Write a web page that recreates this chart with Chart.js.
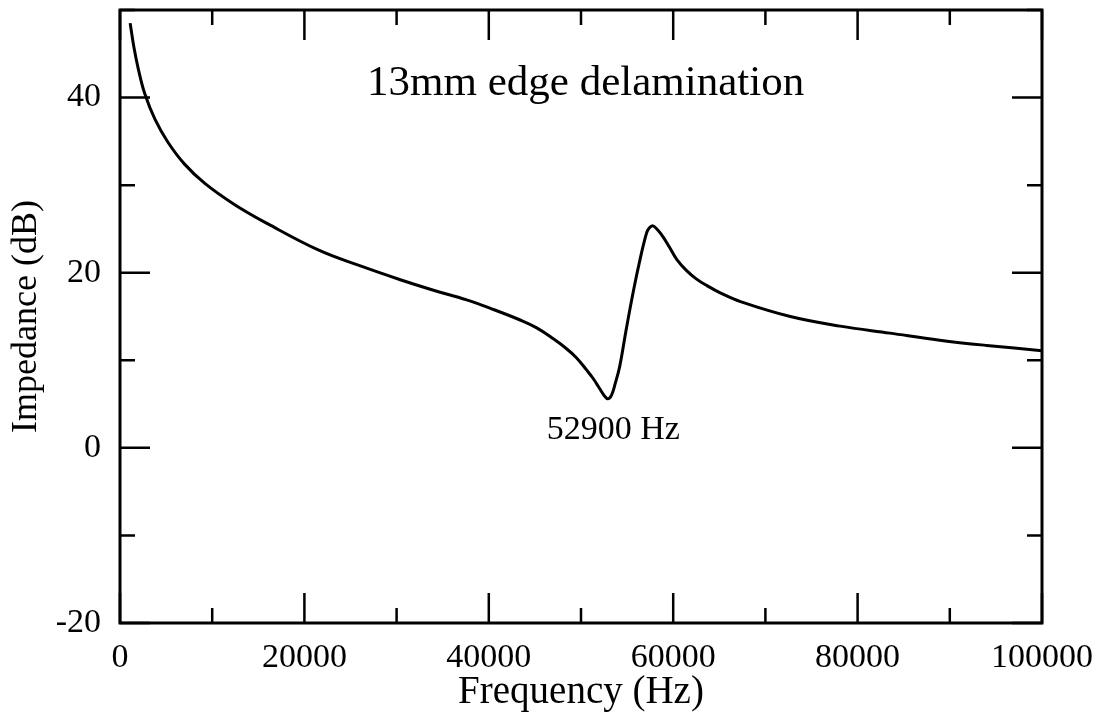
<!DOCTYPE html>
<html>
<head>
<meta charset="utf-8">
<script src="https://cdn.jsdelivr.net/npm/chart.js@4/dist/chart.umd.min.js"></script>
<style>
  body { margin: 0; background: #fff; }
</style>
</head>
<body>
<canvas id="impedance-chart" width="1105" height="718"></canvas>
<script>
// values
var freqHz = [1100, 1500, 2000, 2700, 3800, 5200, 7000, 9200, 12400, 16000, 21500, 26000,
	30400, 34000, 37600, 40500, 43400, 45200, 47000, 48400, 49500, 50600, 51300, 52000,
	52500, 52900, 53300, 53700, 54200, 54900, 55700, 56400, 57100, 57400, 57800, 58300,
	58900, 59600, 60400, 61400, 62500, 63700, 65100, 67300, 72700, 78100, 83500, 88900,
	94000, 100000];
var impedanceDb = [48.5, 45.8, 43.2, 40.4, 37.5, 34.9, 32.4, 30.2, 27.8, 25.6, 22.6, 20.8,
	19.2, 18.0, 16.9, 15.8, 14.6, 13.7, 12.45, 11.35, 10.3, 8.9, 7.95, 6.8,
	6.0, 5.6, 6.0, 7.3, 9.3, 13.5, 18.0, 21.5, 24.5, 25.1, 25.35, 24.9,
	24.1, 22.9, 21.5, 20.3, 19.3, 18.5, 17.7, 16.7, 15.0, 13.9, 13.1, 12.3,
	11.7, 11.1];
var xTickLabels = [0, 20000, 40000, 60000, 80000, 100000];
var yTickLabels = [-20, 0, 20, 40];

var titleText = "13mm edge delamination";
var titleAt = [50500, 41.6];
var noteText = "52900 Hz";
var noteAt = [53500, 2.0];

var serif = "'Liberation Serif', 'Times New Roman', serif";

var points = [];
for (var i = 0; i < freqHz.length; i++) {
	points.push({ x : freqHz[i], y : impedanceDb[i] });
}

// inward ticks on all four sides, the frame, and the two texts
var frameTicks = {
	id : "frameTicks",
	afterDatasetsDraw : function (chart) {
		var ctx = chart.ctx;
		var a = chart.chartArea;
		var xs = chart.scales.x;
		var ys = chart.scales.y;
		ctx.save();
		ctx.strokeStyle = "#000";
		ctx.lineWidth = 2.5;
		ctx.beginPath();
		xs.ticks.forEach(function (t) {
			var px = xs.getPixelForValue(t.value);
			var len = xTickLabels.indexOf(t.value) >= 0 ? 30 : 15;
			ctx.moveTo(px, a.bottom); ctx.lineTo(px, a.bottom - len);
			ctx.moveTo(px, a.top); ctx.lineTo(px, a.top + len);
		});
		ys.ticks.forEach(function (t) {
			var py = ys.getPixelForValue(t.value);
			var len = yTickLabels.indexOf(t.value) >= 0 ? 30 : 15;
			ctx.moveTo(a.left, py); ctx.lineTo(a.left + len, py);
			ctx.moveTo(a.right, py); ctx.lineTo(a.right - len, py);
		});
		ctx.stroke();
		ctx.lineWidth = 3;
		ctx.strokeRect(a.left, a.top, a.right - a.left, a.bottom - a.top);

		ctx.fillStyle = "#000";
		ctx.textAlign = "center";
		ctx.textBaseline = "middle";
		ctx.font = "43px " + serif;
		ctx.fillText(titleText, xs.getPixelForValue(titleAt[0]), ys.getPixelForValue(titleAt[1]));
		ctx.font = "34px " + serif;
		ctx.fillText(noteText, xs.getPixelForValue(noteAt[0]), ys.getPixelForValue(noteAt[1]));
		ctx.restore();
	}
};

var ctx1 = document.getElementById("impedance-chart");

var chart1 = new Chart(ctx1, {
	type : "scatter",
	data : {
		datasets : [
			{
				label : "Impedance",
				data : points,
				showLine : true,
				borderColor : "#000",
				borderWidth : 3,
				pointRadius : 0,
				tension : 0.4
			}
		]
	},
	options : {
		responsive : false,
		animation : false,
		layout : { padding : { top : 10, right : 63, left : 0, bottom : 0 } },
		plugins : {
			legend : { display : false },
			tooltip : { enabled : false }
		},
		scales : {
			x : {
				type : "linear",
				min : 0,
				max : 100000,
				grid : { display : false, drawTicks : false },
				border : { display : false },
				ticks : {
					stepSize : 10000,
					autoSkip : false,
					maxRotation : 0,
					padding : 15,
					color : "#000",
					font : { family : serif, size : 34 },
					callback : function (v) { return xTickLabels.indexOf(v) >= 0 ? String(v) : ""; }
				},
				title : {
					display : true,
					text : "Frequency (Hz)",
					color : "#000",
					font : { family : serif, size : 39 },
					padding : { top : 0, bottom : 2 }
				},
				afterFit : function (scale) {
					scale.height = 95;
					scale.paddingLeft = 0;
					scale.paddingRight = 0;
				}
			},
			y : {
				min : -20,
				max : 50,
				grid : { display : false, drawTicks : false },
				border : { display : false },
				ticks : {
					stepSize : 10,
					autoSkip : false,
					padding : 19,
					color : "#000",
					font : { family : serif, size : 34 },
					callback : function (v) { return yTickLabels.indexOf(v) >= 0 ? String(v) : ""; }
				},
				title : {
					display : true,
					text : "Impedance (dB)",
					color : "#000",
					font : { family : serif, size : 36 },
					padding : { top : 5, bottom : 0 }
				},
				afterFit : function (scale) {
					scale.width = 120;
					scale.paddingTop = 0;
					scale.paddingBottom = 0;
				}
			}
		}
	},
	plugins : [frameTicks]
});
</script>
</body>
</html>
